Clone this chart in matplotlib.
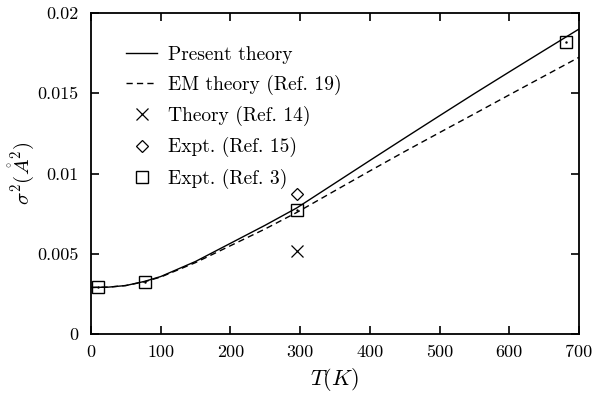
import matplotlib
matplotlib.use("Agg")
import matplotlib.pyplot as plt

plt.rcParams['font.family'] = ['cmr10', 'DejaVu Serif']
plt.rcParams['mathtext.fontset'] = 'cm'
plt.rcParams['axes.formatter.use_mathtext'] = True

# Present theory (solid curve)
T_present = [0, 25, 50, 77, 100, 150, 200, 250, 295, 350, 400, 450, 500, 550, 600, 650, 700]
s_present = [0.00290, 0.00292, 0.00302, 0.00328, 0.00358, 0.00452, 0.00565, 0.00678, 0.00785,
             0.00940, 0.01081, 0.01221, 0.01360, 0.01498, 0.01633, 0.01767, 0.01900]

# EM theory (dashed curve)
T_em = [0, 25, 50, 77, 100, 150, 200, 250, 295, 350, 400, 450, 500, 550, 600, 650, 700]
s_em = [0.00290, 0.00292, 0.00302, 0.00326, 0.00355, 0.00445, 0.00550, 0.00655, 0.00757,
        0.00893, 0.01016, 0.01137, 0.01255, 0.01372, 0.01490, 0.01607, 0.01724]

# Theory (Ref. 14)
T_th14 = [295]
s_th14 = [0.00517]

# Expt. (Ref. 15)
T_ex15 = [295]
s_ex15 = [0.00875]

# Expt. (Ref. 3)
T_ex3 = [10, 77, 295, 682]
s_ex3 = [0.00293, 0.00325, 0.00775, 0.01822]

xticks = [0, 100, 200, 300, 400, 500, 600, 700]
yticks = [0, 0.005, 0.01, 0.015, 0.02]
ytick_labels = ['0', '0.005', '0.01', '0.015', '0.02']

fig = plt.figure(figsize=(5.92, 3.98), dpi=100)
ax = fig.add_axes([0.1537, 0.1608, 0.978 - 0.1537, 0.9673 - 0.1608])

ax.plot(T_present, s_present, '-', color='black', lw=1.0, label='Present theory')
ax.plot(T_em, s_em, '--', color='black', lw=1.0, dashes=(4.5, 3), label='EM theory (Ref. 19)')
ax.plot(T_th14, s_th14, 'x', color='black', ms=8, mew=0.9, ls='none', label='Theory (Ref. 14)')
ax.plot(T_ex15, s_ex15, 'D', mfc='none', mec='black', ms=6, mew=0.9, ls='none', label='Expt. (Ref. 15)')
ax.plot(T_ex3, s_ex3, 's', mfc='none', mec='black', ms=8, mew=1.0, ls='none', label='Expt. (Ref. 3)')
ax.plot(T_ex3, s_ex3, '.', color='black', ms=1.5, ls='none')

ax.set_xlim(0, 700)
ax.set_ylim(0, 0.02)
ax.set_xticks(xticks)
ax.set_xticklabels([str(v) for v in xticks])
ax.set_yticks(yticks)
ax.set_yticklabels(ytick_labels)
ax.tick_params(direction='in', length=6, width=1.2, top=True, right=True, labelsize=13)
ax.tick_params(axis='x', pad=8)
ax.tick_params(axis='y', pad=9)
for sp in ax.spines.values():
    sp.set_linewidth(1.3)

ax.set_xlabel(r'$T(K)$', fontsize=16, labelpad=4)
ax.set_ylabel(r'$\sigma^2(\mathring{A}^2)$', fontsize=15, labelpad=1)

leg = ax.legend(loc='upper left', bbox_to_anchor=(0.056, 0.922), frameon=False, fontsize=14,
                handlelength=1.6, handletextpad=0.57, labelspacing=0.57, borderaxespad=0)
fig.savefig('out.png', dpi=100)
